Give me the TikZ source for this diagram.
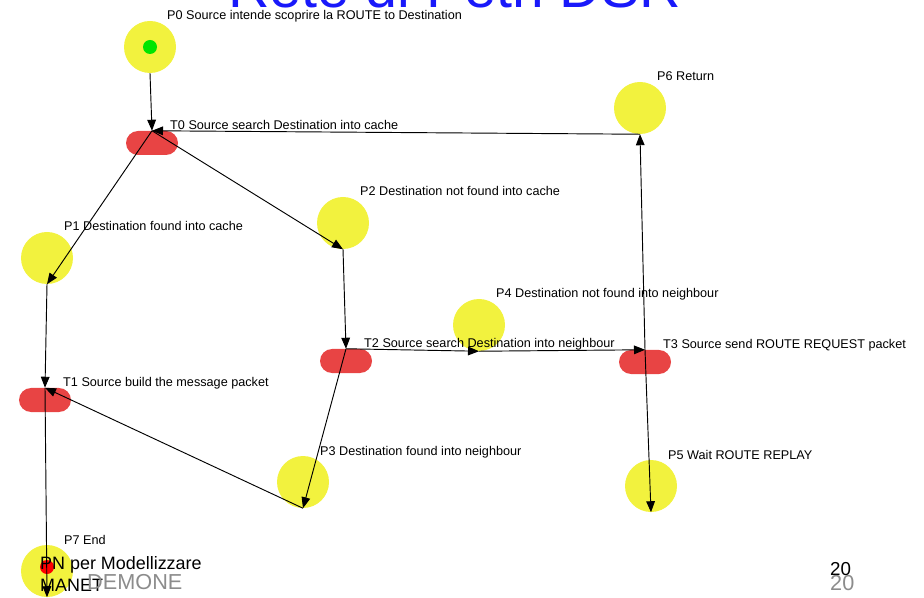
\documentclass[tikz,border=0pt]{standalone}
\usepackage{fontspec}
\setmainfont{Liberation Sans}
\usepackage{xcolor}
\usetikzlibrary{arrows.meta}

\definecolor{placeyellow}{RGB}{242,242,62}
\definecolor{transred}{RGB}{232,68,68}
\definecolor{titleblue}{RGB}{25,25,250}
\definecolor{footgray}{RGB}{140,140,140}

\tikzset{
  place/.style={circle, fill=placeyellow, minimum size=1.56cm, inner sep=0pt},
  trans/.style={rectangle, rounded corners=0.36cm, fill=transred,
    minimum width=1.56cm, minimum height=0.72cm, inner sep=0pt},
  token/.style={circle, minimum size=0.42cm, inner sep=0pt},
  plbl/.style={anchor=base west, xshift=0.51cm, yshift=0.81cm, inner sep=0pt,
    font=\fontsize{10.8}{13}\selectfont},
  tlbl/.style={anchor=base west, xshift=0.54cm, yshift=0.39cm, inner sep=0pt,
    font=\fontsize{10.8}{13}\selectfont},
  arc/.style={line width=0.8pt, -{Triangle[length=0.33cm, width=0.26cm]}},
}

\begin{document}
\begin{tikzpicture}[x=0.03cm, y=-0.03cm]

  \useasboundingbox (0,0) rectangle (924,598);

  % title, cut by the top edge
  \begin{scope}
    \clip (0,0) rectangle (924,598);
    \node[anchor=base west, inner sep=0pt, text=titleblue,
      font=\fontsize{49}{52}\selectfont] (title) at (228,7.5) {Rete di Petri DSR};
  \end{scope}

  % places
  \foreach \n/\x/\y/\t in {P0/150/47/P0 Source intende scoprire la ROUTE to Destination,
      P1/47/258/P1 Destination found into cache,
      P2/343/223/P2 Destination not found into cache,
      P3/303/482/P3 Destination found into neighbour,
      P4/479/325/P4 Destination not found into neighbour,
      P5/651/486/P5 Wait ROUTE REPLAY,
      P6/640/108/P6 Return,
      P7/47/571/P7 End} {
    \node[place] (\n) at (\x,\y) {};
    \node[plbl] (\n-lbl) at (\n.center) {\t};
  }

  % transitions
  \foreach \n/\x/\y/\t in {T0/152/143/T0 Source search Destination into cache,
      T1/45/400/T1 Source build the message packet,
      T2/346/361/T2 Source search Destination into neighbour,
      T3/645/362/T3 Source send ROUTE REQUEST packet} {
    \node[trans] (\n) at (\x,\y) {};
    \node[tlbl] (\n-lbl) at (\n.center) {\t};
  }

  % tokens
  \node[token, fill=green!90!black] (tok0) at (P0) {};
  \node[token, fill=red] (tok7) at (47,567) {};

  % arcs
  \foreach \a/\b in {P0.south/T0.north, P6.south/T0.north, T0.north/P1.south,
      T0.north/P2.south, P1.south/T1.north, P2.south/T2.north,
      T1.north/P7.south, P3.south/T1.north, T2.north/P3.south,
      T2.north/P4.south, P4.south/T3.north, T3.north/P5.south,
      T3.north/P6.south} {
    \draw[arc] (\a) -- (\b);
  }

  % slide footer
  \node[anchor=north west, align=left, inner sep=0pt,
    font=\fontsize{15.3}{18.7}\selectfont] (foot) at (40,556) {PN per Modellizzare\\MANET};
  \node[anchor=base west, inner sep=0pt, text=footgray,
    font=\fontsize{18.5}{20}\selectfont] (demone) at (87,589) {DEMONE};
  \node[anchor=base west, inner sep=0pt,
    font=\fontsize{16}{18}\selectfont] (pagenum) at (830,575) {20};
  \node[anchor=base west, inner sep=0pt, text=footgray,
    font=\fontsize{18.5}{20}\selectfont] (pagenumgray) at (830,590) {20};

\end{tikzpicture}
\end{document}
